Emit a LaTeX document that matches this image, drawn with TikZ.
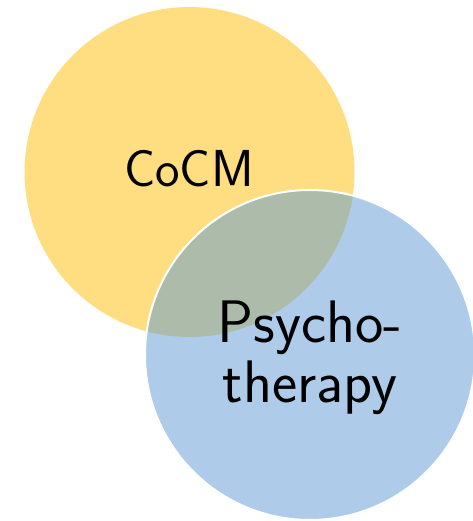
\documentclass[tikz,border=0pt]{standalone}
\usepackage{fontspec}
\definecolor{goldfill}{HTML}{FFDE82}
\definecolor{skyfill}{HTML}{AECCE9}
\definecolor{sagefill}{HTML}{ADBCAA}
\begin{document}
\begin{tikzpicture}[x=1pt,y=1pt,
  label text/.style={inner sep=0pt, text=black, align=center}]
  \useasboundingbox (0,0) rectangle (472,521);
  % the two sets
  \coordinate (cA) at (189.5,349);
  \coordinate (cB) at (310,166);
  \fill[goldfill] (cA) circle (165);
  \fill[skyfill] (cB) circle (165);
  % their intersection
  \begin{scope}
    \clip (cA) circle (165);
    \fill[sagefill] (cB) circle (165);
  \end{scope}
  \draw[white, line width=2pt] (cB) circle (165);
  % labels
  \node[label text, font=\sffamily\fontsize{52}{60}\selectfont, anchor=base] (cocm) at (189,334) {CoCM};
  \node[label text, font=\sffamily\fontsize{60}{60}\selectfont, anchor=base] (psy) at (310,178) {Psycho-};
  \node[label text, font=\sffamily\fontsize{60}{60}\selectfont, anchor=base] (ther) at (310,118) {therapy};
\end{tikzpicture}
\end{document}
